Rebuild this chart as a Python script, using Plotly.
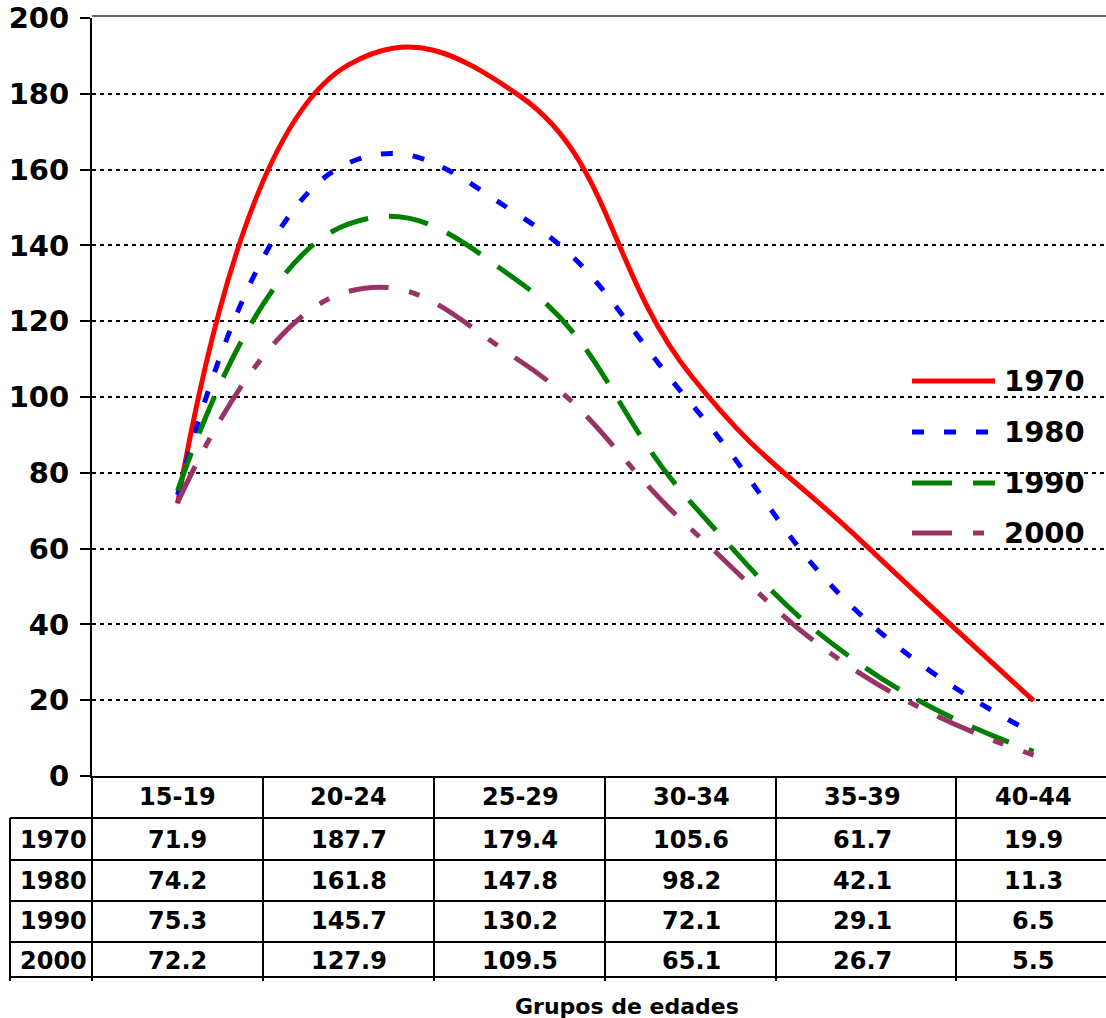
import plotly.graph_objects as go

# ---------------- data ----------------
categories = ["15-19", "20-24", "25-29", "30-34", "35-39", "40-44"]
years = ["1970", "1980", "1990", "2000"]
v1970 = [71.9, 187.7, 179.4, 105.6, 61.7, 19.9]
v1980 = [74.2, 161.8, 147.8, 98.2, 42.1, 11.3]
v1990 = [75.3, 145.7, 130.2, 72.1, 29.1, 6.5]
v2000 = [72.2, 127.9, 109.5, 65.1, 26.7, 5.5]
y_ticks = [0, 20, 40, 60, 80, 100, 120, 140, 160, 180, 200]
x_title = "Grupos de edades"

series = [v1970, v1980, v1990, v2000]
colors = ["#FF0000", "#0000FF", "#008000", "#993366"]
dashes = ["solid", "12px,20px", "40px,21px", "40px,21px,11px,21px"]

# ---------------- geometry ----------------
W, H = 1106, 1018
L, T, B, R = 92, 18, 242, 0
PW = W - L - R
PH = H - T - B
COL = 171.2
FONT = "DejaVu Sans"


def px(x):
    return (x - L) / PW


def py(y):
    return (H - B - y) / PH


fig = go.Figure()
for name, vals, c, d in zip(years, series, colors, dashes):
    fig.add_trace(go.Scatter(
        x=categories, y=vals, name=name, mode="lines",
        line=dict(color=c, width=5, dash=d, shape="spline", smoothing=1.3),
        showlegend=False, hoverinfo="skip"))

shapes = []
annotations = []
blk = dict(color="black", width=2)

# top border line
shapes.append(dict(type="line", xref="paper", yref="paper", x0=0, x1=1,
                   y0=py(16), y1=py(16), line=dict(color="#333333", width=1.5)))

# legend box (white background covering gridlines)
shapes.append(dict(type="rect", xref="paper", yref="paper", layer="between",
                   x0=px(880), x1=1.0, y0=py(578), y1=py(338),
                   fillcolor="white", line=dict(width=0)))
leg_y = [381, 432, 483, 533]
for name, c, d, yy in zip(years, colors, dashes, leg_y):
    shapes.append(dict(type="line", xref="paper", yref="paper",
                       x0=px(912), x1=px(995), y0=py(yy), y1=py(yy),
                       line=dict(color=c, width=5, dash=d)))
    annotations.append(dict(text=name, xref="paper", yref="paper",
                            x=px(1002), y=py(yy), xanchor="left", yanchor="middle",
                            showarrow=False,
                            font=dict(family=FONT, size=29, color="black", weight="bold")))

# data table lines
row_lines = [818, 860, 901, 942, 977]
for ry in row_lines:
    shapes.append(dict(type="line", xref="paper", yref="paper",
                       x0=px(10), x1=1.0, y0=py(ry), y1=py(ry), line=blk))
shapes.append(dict(type="line", xref="paper", yref="paper",
                   x0=px(10), x1=px(10), y0=py(818), y1=py(981), line=blk))
col_lines = [92, 263, 434, 605, 776, 956]
for cx in col_lines:
    shapes.append(dict(type="line", xref="paper", yref="paper",
                       x0=px(cx), x1=px(cx), y0=py(776), y1=py(981), line=blk))

tfont = dict(family=FONT, size=24, color="black", weight="bold")
# header row
for cat in categories:
    annotations.append(dict(text=cat, xref="x", yref="paper", x=cat, y=py(797),
                            xanchor="center", yanchor="middle", showarrow=False, font=tfont))
row_y = [840, 881, 921, 961]
for name, vals, ry in zip(years, series, row_y):
    annotations.append(dict(text=name, xref="paper", yref="paper", x=px(18), y=py(ry),
                            xanchor="left", yanchor="middle", showarrow=False, font=tfont))
    for cat, v in zip(categories, vals):
        annotations.append(dict(text=f"{v:.1f}", xref="x", yref="paper", x=cat, y=py(ry),
                                xanchor="center", yanchor="middle", showarrow=False, font=tfont))

annotations.append(dict(text=x_title, xref="paper", yref="paper", x=px(627), y=py(1006),
                        xanchor="center", yanchor="middle", showarrow=False,
                        font=dict(family=FONT, size=22, color="black", weight="bold")))

fig.update_layout(
    width=W, height=H,
    margin=dict(l=L, r=R, t=T, b=B, pad=0),
    paper_bgcolor="white", plot_bgcolor="white",
    font=dict(family=FONT, color="black"),
    shapes=shapes, annotations=annotations,
    xaxis=dict(type="category", categoryorder="array", categoryarray=categories,
               range=[-0.5, -0.5 + PW / COL], showticklabels=False, ticks="",
               showgrid=False, zeroline=False, showline=True, linecolor="black",
               linewidth=2),
    yaxis=dict(range=[0, 200], tickvals=y_ticks, ticks="outside", ticklen=10,
               tickwidth=2, tickcolor="black", showline=True, linecolor="black",
               linewidth=2, showgrid=True, gridcolor="black", gridwidth=2,
               griddash="4px,4px", zeroline=False, ticklabelstandoff=5,
               tickfont=dict(family=FONT, size=29, color="black", weight="bold")),
)

fig.write_html("out.html", config={"displayModeBar": False},
               post_script="document.body.style.margin='0px';document.body.style.overflow='hidden';")
